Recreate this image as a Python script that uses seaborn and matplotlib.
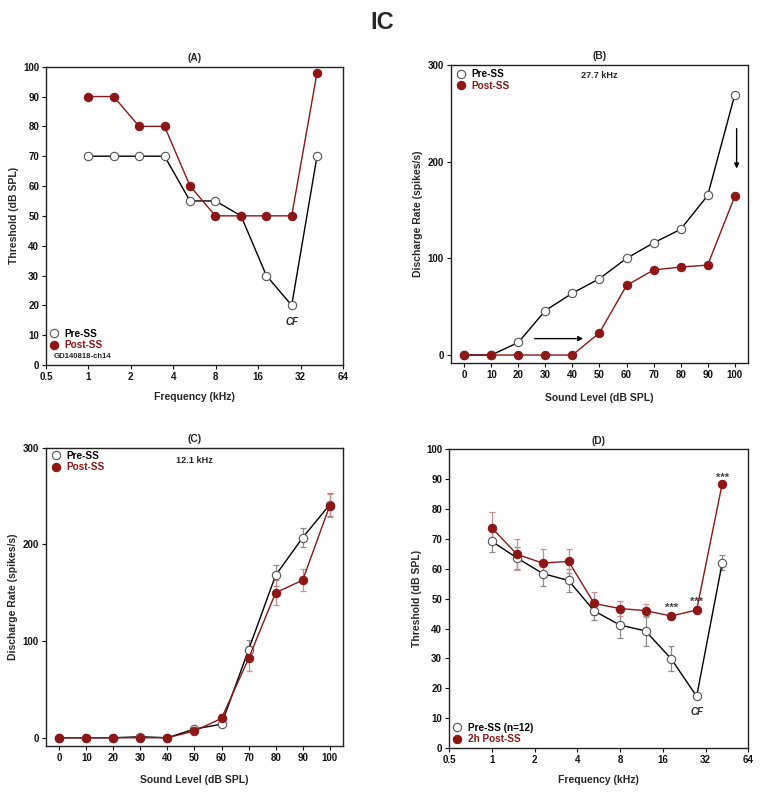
import matplotlib
matplotlib.use("Agg")
import matplotlib.pyplot as plt
from matplotlib.lines import Line2D
import seaborn as sns
import pandas as pd
import numpy as np

sns.set_style("ticks")
plt.rcParams['font.family'] = ['Liberation Sans', 'DejaVu Sans']
plt.rcParams['font.weight'] = 'bold'
plt.rcParams['axes.labelweight'] = 'bold'
plt.rcParams['axes.titleweight'] = 'bold'

# ---------------- data ----------------
freqs = [1.0, 1.51, 2.29, 3.47, 5.26, 7.96, 12.1, 18.3, 27.7, 41.9]
freq_ticks = [0.5, 1, 2, 4, 8, 16, 32, 64]
freq_ticklabels = ["0.5", "1", "2", "4", "8", "16", "32", "64"]

a_pre = [70, 70, 70, 70, 55, 55, 50, 30, 20, 70]
a_post = [90, 90, 80, 80, 60, 50, 50, 50, 50, 98]

levels = [0, 10, 20, 30, 40, 50, 60, 70, 80, 90, 100]
b_pre = [0, 0, 13, 46, 64, 79, 100, 116, 130, 165, 269]
b_post = [0, 0, 0, 0, 0, 23, 72, 88, 91, 93, 164]

c_pre = [0, 0, 0, 1, 0, 9, 14, 91, 168, 207, 241]
c_pre_err = [0.5, 0.5, 0.5, 1, 0.5, 2, 2, 10, 11, 10, 12]
c_post = [0, 0, 0, 0, 0, 7, 20, 82, 150, 163, 240]
c_post_err = [0.5, 0.5, 0.5, 0.5, 0.5, 2, 5, 13, 13, 11, 12]

d_pre = [69.2, 63.6, 58.4, 56.1, 45.9, 41.2, 39.2, 29.9, 17.3, 62.0]
d_pre_err = [3.6, 3.8, 4.2, 4.0, 3.2, 4.4, 5.0, 4.2, 0.6, 2.5]
d_post = [73.7, 64.8, 61.9, 62.5, 48.4, 46.7, 46.0, 44.2, 46.2, 88.5]
d_post_err = [5.3, 5.2, 4.7, 4.0, 3.7, 2.5, 2.3, 1.0, 1.0, 1.0]

sig_x = [18.3, 27.7, 41.9]
sig_y = [45.8, 48.1, 89.6]

# ---------------- style ----------------
RED = "#8e1616"
RED_ERR = "#c9908f"
GREY_EDGE = "#555555"
GREY_ERR = "#8a8a8a"
MS = 6.0
TICK_FS = 7.0
LAB_FS = 7.5
TTL_FS = 7.4
LEG_FS = 7.2

fig = plt.figure(figsize=(7.64, 7.94), dpi=100)
axA = fig.add_axes([0.0602, 0.5403, 0.3887, 0.3757])
axB = fig.add_axes([0.5899, 0.5425, 0.3895, 0.3757])
axC = fig.add_axes([0.0598, 0.0605, 0.3895, 0.3757])
axD = fig.add_axes([0.5877, 0.0579, 0.3918, 0.3762])

fig.text(0.5, 0.972, "IC", ha="center", va="center", fontsize=17, fontweight="bold")


def style_axes(ax):
    for s in ax.spines.values():
        s.set_linewidth(1.0)
        s.set_color("#222222")
        s.set_visible(True)
    ax.tick_params(axis="both", direction="out", length=3, width=0.8,
                   labelsize=TICK_FS, pad=2, colors="#111111")
    ax.tick_params(top=False, right=False)


def draw_series(ax, x, y, pre=True, err=None):
    df = pd.DataFrame({"x": x, "y": y})
    if err is not None:
        ax.errorbar(x, y, yerr=err, fmt="none",
                    ecolor=GREY_ERR if pre else RED_ERR,
                    elinewidth=0.9, capsize=2, capthick=0.9, zorder=2)
    if pre:
        sns.lineplot(data=df, x="x", y="y", ax=ax, sort=False, color="black",
                     linewidth=1.0, marker="o", markersize=MS,
                     markerfacecolor="white", markeredgecolor=GREY_EDGE,
                     markeredgewidth=0.8, zorder=3)
    else:
        sns.lineplot(data=df, x="x", y="y", ax=ax, sort=False, color=RED,
                     linewidth=1.0, marker="o", markersize=MS,
                     markerfacecolor=RED, markeredgecolor=RED,
                     markeredgewidth=0.8, zorder=4)


def add_legend(ax, labels, loc, anchor):
    handles = [
        Line2D([], [], linestyle="none", marker="o", markersize=MS,
               markerfacecolor="white", markeredgecolor=GREY_EDGE, markeredgewidth=0.8),
        Line2D([], [], linestyle="none", marker="o", markersize=MS,
               markerfacecolor=RED, markeredgecolor=RED, markeredgewidth=0.8),
    ]
    leg = ax.legend(handles, labels, loc=loc, bbox_to_anchor=anchor, frameon=False,
                    fontsize=LEG_FS, handlelength=0.8, handletextpad=0.7,
                    labelspacing=0.15, borderaxespad=0, borderpad=0)
    leg.get_texts()[0].set_color("black")
    leg.get_texts()[1].set_color(RED)
    for t in leg.get_texts():
        t.set_fontweight("bold")
    return leg


def freq_axis(ax):
    ax.set_xscale("log", base=2)
    ax.set_xlim(0.5, 64)
    ax.set_xticks(freq_ticks)
    ax.set_xticklabels(freq_ticklabels)
    ax.minorticks_off()
    ax.set_ylim(0, 100)
    ax.set_yticks(range(0, 101, 10))
    ax.set_xlabel("Frequency (kHz)", fontsize=LAB_FS, labelpad=7)
    ax.set_ylabel("Threshold (dB SPL)", fontsize=LAB_FS, labelpad=3)


def level_axis(ax):
    ax.set_xlim(-5, 105)
    ax.set_xticks(levels)
    ax.set_ylim(-8.5, 300)
    ax.set_yticks([0, 100, 200, 300])
    ax.set_xlabel("Sound Level (dB SPL)", fontsize=LAB_FS, labelpad=9)
    ax.set_ylabel("Discharge Rate (spikes/s)", fontsize=LAB_FS, labelpad=3)


# ---------------- Panel A ----------------
draw_series(axA, freqs, a_pre, pre=True)
draw_series(axA, freqs, a_post, pre=False)
freq_axis(axA)
style_axes(axA)
axA.set_title("(A)", fontsize=TTL_FS, pad=4)
axA.text(27.7, 14.5, "CF", ha="center", va="center", fontsize=7, style="italic", fontweight="bold")
add_legend(axA, ["Pre-SS", "Post-SS"], "lower left", (0.012, 0.05))
axA.text(0.025, 0.027, "GD140818-ch14", transform=axA.transAxes, fontsize=5.6,
         ha="left", va="center", fontweight="bold")

# ---------------- Panel B ----------------
draw_series(axB, levels, b_pre, pre=True)
draw_series(axB, levels, b_post, pre=False)
level_axis(axB)
style_axes(axB)
axB.set_title("(B)", fontsize=TTL_FS, pad=4)
axB.text(50, 289, "27.7 kHz", ha="center", va="center", fontsize=6.6, fontweight="bold")
add_legend(axB, ["Pre-SS", "Post-SS"], "upper left", (0.02, 0.985))
axB.annotate("", xy=(45, 17), xytext=(25, 17),
             arrowprops=dict(arrowstyle="-|>", color="black", lw=1.0, mutation_scale=7))
axB.annotate("", xy=(100.7, 190), xytext=(100.7, 237),
             arrowprops=dict(arrowstyle="-|>", color="black", lw=1.0, mutation_scale=7))

# ---------------- Panel C ----------------
draw_series(axC, levels, c_pre, pre=True, err=c_pre_err)
draw_series(axC, levels, c_post, pre=False, err=c_post_err)
level_axis(axC)
style_axes(axC)
axC.set_title("(C)", fontsize=TTL_FS, pad=4)
axC.text(50, 287, "12.1 kHz", ha="center", va="center", fontsize=6.6, fontweight="bold")
add_legend(axC, ["Pre-SS", "Post-SS"], "upper left", (0.02, 0.99))

# ---------------- Panel D ----------------
draw_series(axD, freqs, d_pre, pre=True, err=d_pre_err)
draw_series(axD, freqs, d_post, pre=False, err=d_post_err)
freq_axis(axD)
style_axes(axD)
axD.set_title("(D)", fontsize=TTL_FS, pad=4)
axD.text(27.7, 12.2, "CF", ha="center", va="center", fontsize=7, style="italic", fontweight="bold")
for fx, fy in zip(sig_x, sig_y):
    axD.text(fx, fy, "***", ha="center", va="baseline", fontsize=8, color="#444444", fontweight="bold")
add_legend(axD, ["Pre-SS (n=12)", "2h Post-SS"], "lower left", (0.012, 0.012))

fig.savefig("out.png", dpi=100)
